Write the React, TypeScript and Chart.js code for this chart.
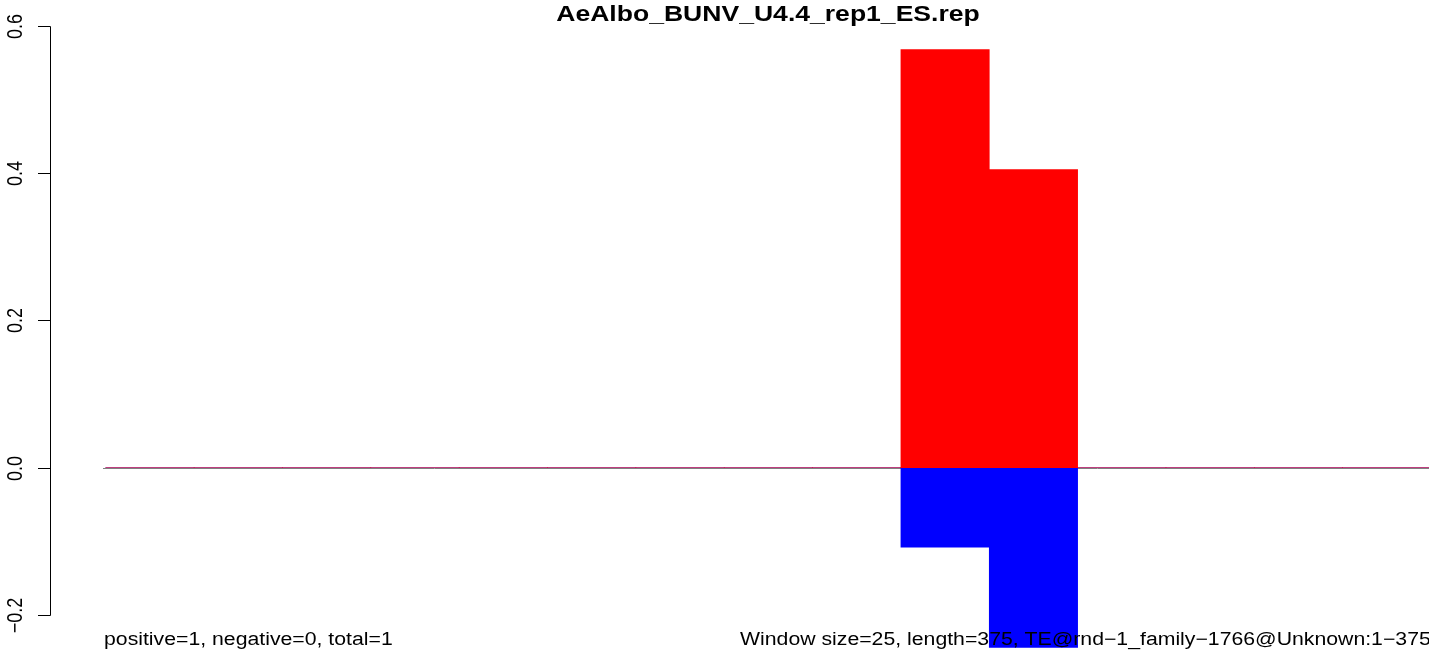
import React, { useEffect, useRef } from "react";
import { Chart, registerables } from "chart.js";

Chart.register(...registerables);

const TITLE = "AeAlbo_BUNV_U4.4_rep1_ES.rep";
const windowStarts = [1, 26, 51, 76, 101, 126, 151, 176, 201, 226, 251, 276, 301, 326, 351];
const positiveValues = [0, 0, 0, 0, 0, 0, 0, 0, 0, 0.568, 0.405, 0, 0, 0, 0];
const negativeValues = [0, 0, 0, 0, 0, 0, 0, 0, 0, -0.108, -0.244, 0, 0, 0, 0];
const yTickValues = [-0.2, 0.0, 0.2, 0.4, 0.6];
const yTickLabels = ["\u22120.2", "0.0", "0.2", "0.4", "0.6"];
const leftNote = "positive=1, negative=0, total=1";
const rightNote = "Window size=25, length=375, TE@rnd\u22121_family\u22121766@Unknown:1\u2212375";

const FONT = "'Liberation Sans', Arial, Helvetica, sans-serif";
const SX = 1.18; // horizontal stretch of the reference rendering

function stretchedText(ctx: CanvasRenderingContext2D, text: string, x: number, y: number, align: CanvasTextAlign) {
  ctx.save();
  ctx.translate(x, y);
  ctx.scale(SX, 1);
  ctx.textAlign = align;
  ctx.textBaseline = "alphabetic";
  ctx.fillText(text, 0, 0);
  ctx.restore();
}

export default function App() {
  const ref = useRef<HTMLCanvasElement | null>(null);

  useEffect(() => {
    const canvas = ref.current;
    if (!canvas) return;

    const decor = {
      id: "rDecor",
      beforeDatasetsDraw(chart: any) {
        const ctx = chart.ctx;
        const y = chart.scales.y;
        const area = chart.chartArea;
        const y0 = Math.round(y.getPixelForValue(0)) + 0.5;
        ctx.save();
        ctx.strokeStyle = "#7f7f7f";
        ctx.lineWidth = 1;
        ctx.beginPath();
        ctx.moveTo(103, y0);
        ctx.lineTo(area.right, y0);
        ctx.stroke();
        ctx.restore();
      },
      afterDraw(chart: any) {
        const ctx = chart.ctx;
        const y = chart.scales.y;
        ctx.save();
        ctx.fillStyle = "#000";

        // title
        ctx.font = `bold 22.5px ${FONT}`;
        stretchedText(ctx, TITLE, 768, 21, "center");

        // y axis
        const axisX = 50.5;
        const top = Math.round(y.getPixelForValue(yTickValues[yTickValues.length - 1])) + 0.5;
        const bot = Math.round(y.getPixelForValue(yTickValues[0])) + 0.5;
        ctx.strokeStyle = "#000";
        ctx.lineWidth = 1;
        ctx.beginPath();
        ctx.moveTo(axisX, top);
        ctx.lineTo(axisX, bot);
        ctx.stroke();
        ctx.font = `18px ${FONT}`;
        yTickValues.forEach((v, i) => {
          const py = Math.round(y.getPixelForValue(v)) + 0.5;
          ctx.beginPath();
          ctx.moveTo(38, py);
          ctx.lineTo(axisX, py);
          ctx.stroke();
          ctx.save();
          ctx.translate(22, py);
          ctx.scale(SX, 1);
          ctx.rotate(-Math.PI / 2);
          ctx.textAlign = "center";
          ctx.textBaseline = "alphabetic";
          ctx.fillText(yTickLabels[i], 0, 0);
          ctx.restore();
        });

        // bottom notes
        ctx.font = `18px ${FONT}`;
        stretchedText(ctx, leftNote, 104, 645, "left");
        stretchedText(ctx, rightNote, 740, 645, "left");
        ctx.restore();
      },
    };

    const chart = new Chart(canvas, {
      type: "bar",
      data: {
        labels: windowStarts.map(String),
        datasets: [
          {
            label: "positive",
            data: positiveValues.map((v, i) => ({ x: i, y: v })),
            backgroundColor: "#ff0000",
            borderWidth: 0,
            barPercentage: 1,
            categoryPercentage: 1,
          },
          {
            label: "negative",
            data: negativeValues.map((v, i) => ({ x: i, y: v })),
            backgroundColor: "#0000ff",
            borderWidth: 0,
            barPercentage: 1,
            categoryPercentage: 1,
          },
        ],
      },
      options: {
        responsive: false,
        animation: false,
        devicePixelRatio: 1,
        layout: { padding: { left: 50, top: 26, right: 0, bottom: 0 } },
        plugins: { legend: { display: false }, tooltip: { enabled: false }, title: { display: false } },
        scales: {
          x: {
            type: "linear",
            display: false,
            stacked: true,
            offset: false,
            min: -1.131,
            max: 14.477,
            ticks: { includeBounds: false, stepSize: 1 },
            grid: { display: false },
          },
          y: {
            display: false,
            stacked: true,
            min: -0.25026,
            max: 0.6,
            grid: { display: false },
          },
        },
      },
      plugins: [decor],
    } as any);

    return () => chart.destroy();
  }, []);

  return (
    <div style={{ position: "absolute", left: 0, top: 0, width: 1429, height: 652, overflow: "hidden", background: "#fff" }}>
      <canvas ref={ref} width={1429} height={652} style={{ display: "block" }} />
    </div>
  );
}
